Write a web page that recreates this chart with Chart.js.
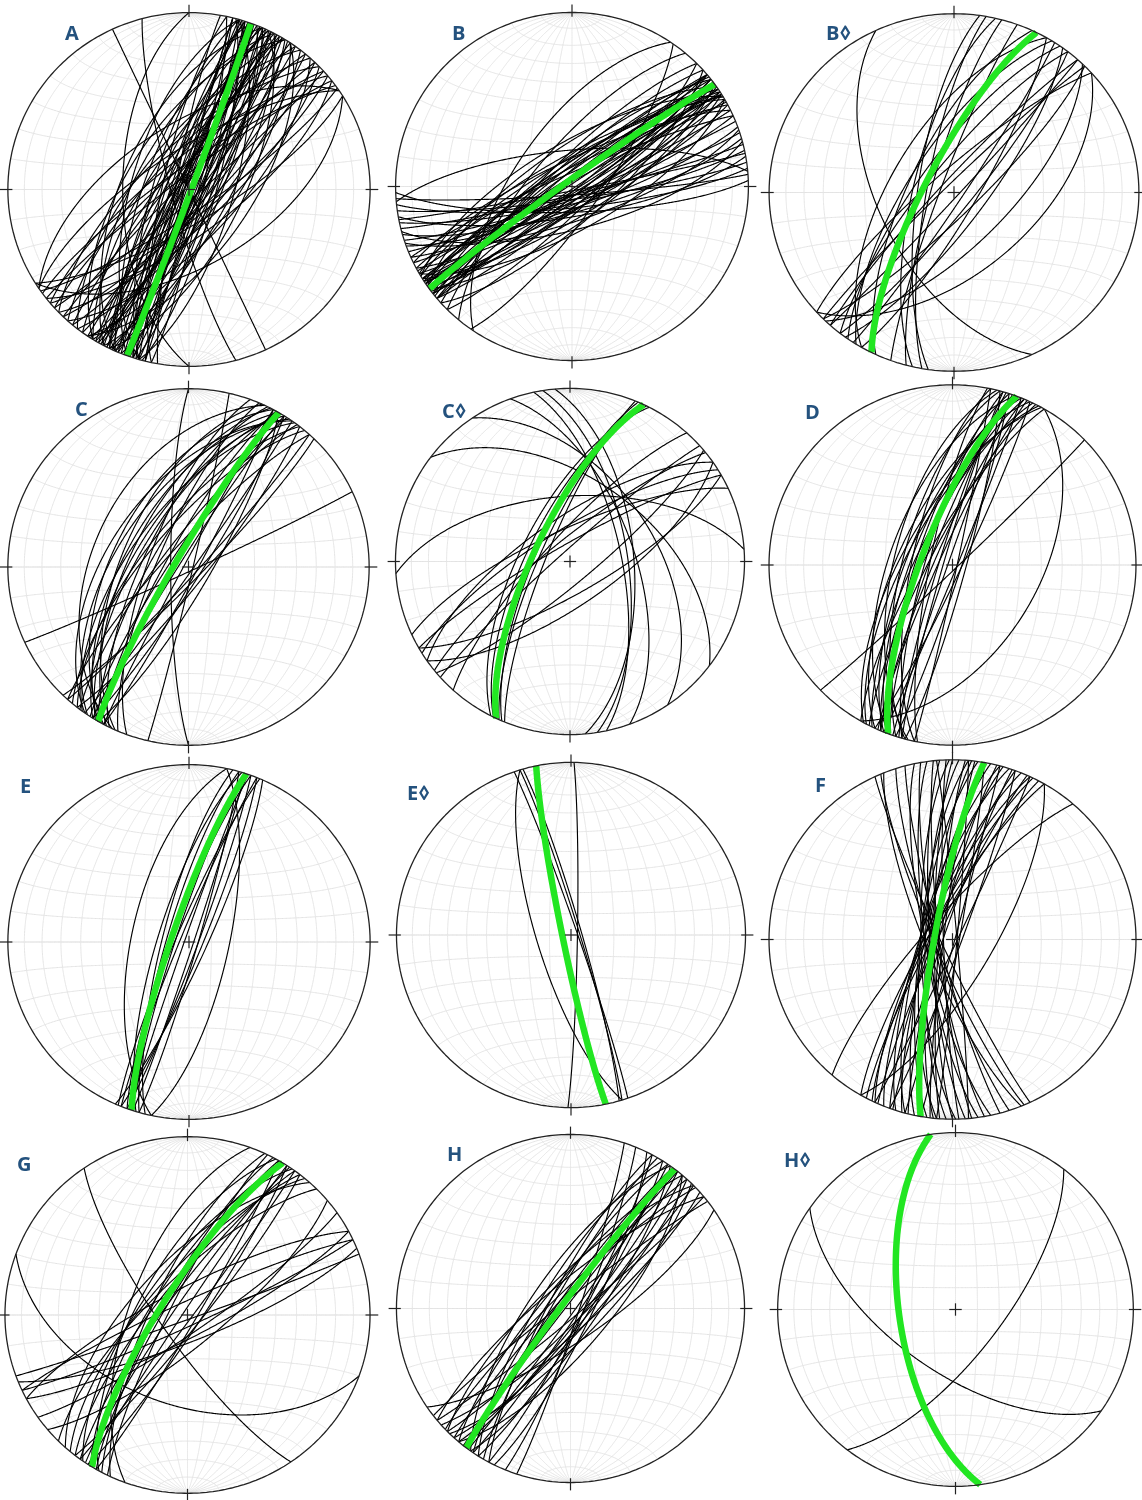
<!DOCTYPE html>
<html>
<head>
<meta charset="utf-8">
<script src="https://cdn.jsdelivr.net/npm/chart.js@4.4.1/dist/chart.umd.min.js"></script>
<style>
  body { margin: 0; background: #fff; width: 1142px; height: 1500px; position: relative; overflow: hidden; }
  .net { position: absolute; }
  .lbl { position: absolute; font: bold 20px "Open Sans", "DejaVu Sans", sans-serif; color: #24527e; line-height: 1; }
</style>
</head>
<body>
<script>
/* =========================================================
   Stereonets (equal-area, lower hemisphere) — great circles per site
   black = individual planes, green = mean plane
   ========================================================= */

// Panel labels
const panelLabels = ['A', 'B', 'B◊', 'C', 'C◊', 'D', 'E', 'E◊', 'F', 'G', 'H', 'H◊'];

// Mean planes (green), strike (right-hand rule) / dip in degrees
const meanStrike = [20, 234, 206.5, 210, 205, 200.5, 198.5, 168.5, 190, 211.5, 216.8, 172];
const meanDip = [89, 87, 77, 84, 73, 76, 82, 86, 82, 78, 86, 64];

// Individual planes, strike / dip
const strikeA = [12, 15, 18, 20, 22, 24, 26, 28, 30, 32, 34, 36, 38, 40, 42, 44, 46, 48, 50, 16, 26, 34, 52, 55, 58,
    190, 192, 194, 196, 198, 200, 202, 204, 206, 208, 210, 212, 214, 216, 218, 220, 222, 224, 226, 228, 230, 232, 196, 204, 212, 200, 208, 236, 234,
    155, 165, 180, 236, 58,
    14, 16, 18, 19, 21, 23, 25, 27, 29, 31, 194, 196, 197, 199, 201, 203, 205, 207, 209, 211, 17, 24, 198, 206, 33];
const dipA = [84, 78, 88, 82, 76, 86, 80, 72, 84, 78, 70, 86, 76, 82, 68, 80, 74, 86, 78, 70, 66, 62, 70, 80, 75,
    84, 78, 88, 74, 82, 70, 86, 76, 80, 66, 84, 72, 88, 78, 68, 82, 74, 86, 70, 80, 76, 84, 64, 60, 62, 88, 85, 72, 80,
    90, 82, 60, 60, 55,
    88, 86, 84, 89, 87, 85, 83, 88, 86, 84, 88, 86, 84, 89, 87, 85, 83, 88, 86, 84, 80, 78, 80, 78, 82];

const strikeB = [52, 55, 57, 58, 60, 62, 64, 50, 54, 60,
    230, 232, 234, 236, 238, 240, 242, 244, 246, 235, 239, 228, 241, 237,
    66, 68, 70, 72, 74, 76, 78, 80, 82, 84, 86, 88, 71, 79, 75,
    214, 265, 225, 45, 48, 220, 35,
    50, 52, 54, 56, 58, 230, 232, 234, 236, 238, 53, 57, 231, 235, 239];
const dipB = [86, 80, 88, 76, 84, 80, 86, 82, 74, 70,
    84, 78, 88, 80, 86, 76, 82, 78, 84, 72, 70, 80, 88, 82,
    82, 86, 80, 84, 78, 86, 82, 76, 84, 80, 86, 78, 74, 88, 70,
    63, 73, 78, 80, 74, 72, 77,
    88, 86, 84, 89, 87, 88, 86, 84, 89, 87, 82, 80, 82, 80, 78];

const strikeBd = [155, 48, 33, 42, 38, 45, 36, 44, 218, 222, 215, 225, 212, 228, 190, 193, 195, 188, 200, 205, 30, 210];
const dipBd = [56, 54, 86, 88, 82, 80, 76, 66, 78, 84, 74, 86, 70, 80, 78, 72, 80, 74, 84, 70, 80, 62];

const strikeC = [205, 208, 210, 212, 206, 214, 210, 216, 203, 218, 209, 213, 207, 215, 211, 204, 220, 217, 212, 208, 222, 200,
    28, 32, 35, 38, 42, 30, 65, 44, 180, 13];
const dipC = [46, 56, 62, 66, 70, 58, 74, 64, 76, 70, 80, 82, 64, 54, 68, 60, 72, 78, 86, 88, 80, 72,
    86, 84, 88, 82, 86, 80, 88, 84, 82, 88];

const strikeCd = [204, 206, 202, 207, 203, 307, 326, 266, 238, 60, 240, 231, 222, 235, 228, 245, 50, 55, 351, 348, 355, 340];
const dipCd = [76, 70, 79, 67, 74, 51, 50, 59, 75, 75, 82, 80, 78, 70, 85, 75, 80, 70, 63, 66, 60, 60];

const strikeD = [200, 198, 202, 204, 196, 205, 199, 203, 195, 207, 201, 197, 206, 194, 208, 200, 210, 192, 196, 203, 209, 191,
    18, 22, 15, 25, 12, 46, 30];
const dipD = [80, 74, 70, 84, 78, 66, 88, 76, 68, 80, 72, 84, 74, 64, 70, 62, 78, 72, 86, 82, 68, 80,
    86, 88, 84, 86, 88, 88, 51];

const strikeE = [198, 196, 200, 202, 194, 199, 203, 197, 20, 22, 18, 24, 16, 192, 12];
const dipE = [84, 80, 82, 86, 78, 88, 84, 76, 86, 84, 88, 82, 86, 64, 72];

const strikeEd = [1, 343, 341, 344, 163];
const dipEd = [87, 86, 87, 85, 74];

const strikeF = [170, 172, 174, 176, 178, 180, 182, 184, 186, 188, 190, 192, 194, 196, 198, 200, 202, 204, 206, 208,
    165, 168, 185, 195, 199, 187, 179, 205, 210, 162,
    5, 10, 15, 20, 355, 25,
    157, 158, 155, 221, 30];
const dipF = [82, 78, 84, 80, 86, 82, 78, 84, 80, 76, 82, 78, 84, 80, 76, 82, 78, 84, 80, 82,
    84, 78, 76, 76, 86, 86, 76, 78, 80, 82,
    88, 87, 89, 86, 88, 88,
    82, 78, 85, 79, 72];

const strikeG = [210, 212, 214, 208, 215, 206, 218, 213, 209, 216, 220, 205, 222, 225,
    30, 33, 36, 38,
    145.5, 110, 62, 65, 68, 245, 242, 70, 55, 50, 200];
const dipG = [80, 74, 84, 78, 70, 82, 76, 88, 68, 80, 72, 74, 66, 74,
    86, 84, 88, 84,
    78, 48, 80, 85, 78, 84, 78, 88, 82, 76, 64];

const strikeH = [36, 38, 40, 34, 42, 45, 32, 216, 214, 218, 220, 212, 222, 225, 210, 28, 48, 50, 230, 208, 44, 215, 55.5, 18, 22, 26, 226, 232, 40, 35];
const dipH = [88, 84, 82, 86, 80, 84, 82, 84, 80, 88, 78, 76, 84, 76, 82, 84, 80, 86, 78, 80, 76, 72, 75, 86, 84, 80, 82, 86, 72, 78];

const strikeHd = [125, 37.5];
const dipHd = [61, 69];

// Net grid: 10 degree meridians and small circles
const gridDips = [10, 20, 30, 40, 50, 60, 70, 80, 90];
const gridCones = [10, 20, 30, 40, 50, 60, 70, 80, 90, 100, 110, 120, 130, 140, 150, 160, 170];

const planeSets = [
    [strikeA, dipA], [strikeB, dipB], [strikeBd, dipBd],
    [strikeC, dipC], [strikeCd, dipCd], [strikeD, dipD],
    [strikeE, dipE], [strikeEd, dipEd], [strikeF, dipF],
    [strikeG, dipG], [strikeH, dipH], [strikeHd, dipHd],
];

// Page placement of each net (centre, radii in px, label corner)
const layout = [
    { cx: 189, cy: 189, rx: 181, ry: 177, lx: 65, ly: 23 },
    { cx: 571.5, cy: 186.5, rx: 176.5, ry: 174, lx: 452, ly: 23 },
    { cx: 954, cy: 192, rx: 185, ry: 179, lx: 826, ly: 23 },
    { cx: 188.5, cy: 566.5, rx: 180.5, ry: 178.5, lx: 75, ly: 399 },
    { cx: 569.5, cy: 561, rx: 174.5, ry: 173, lx: 442, ly: 401 },
    { cx: 952.5, cy: 565, rx: 183.5, ry: 180, lx: 805, ly: 402 },
    { cx: 189, cy: 941.5, rx: 181, ry: 177.5, lx: 20, ly: 776 },
    { cx: 570.5, cy: 934.5, rx: 174.5, ry: 172.5, lx: 407, ly: 783 },
    { cx: 952, cy: 939.5, rx: 183.5, ry: 179.5, lx: 815, ly: 775 },
    { cx: 187.5, cy: 1315, rx: 182.5, ry: 178.5, lx: 17, ly: 1154 },
    { cx: 570, cy: 1308, rx: 174, ry: 174, lx: 447, ly: 1144 },
    { cx: 955, cy: 1309, rx: 178, ry: 177, lx: 784, ly: 1150 },
];

const EXT = 1.06;
const D2R = Math.PI / 180;

// lower hemisphere equal-area projection of a unit vector (east, north, down)
function project(e, n, d) {
    const plunge = Math.asin(Math.max(-1, Math.min(1, d)));
    const trend = Math.atan2(e, n);
    const r = Math.SQRT2 * Math.sin((Math.PI / 2 - plunge) / 2);
    return { x: r * Math.sin(trend), y: r * Math.cos(trend) };
}

function greatCircle(strike, dip) {
    const s = strike * D2R, dd = dip * D2R;
    const sv = [Math.sin(s), Math.cos(s), 0];
    const dv = [Math.cos(dd) * Math.cos(s), -Math.cos(dd) * Math.sin(s), Math.sin(dd)];
    const pts = [];
    for (let a = 0; a <= 180; a++) {
        const ca = Math.cos(a * D2R), sa = Math.sin(a * D2R);
        pts.push(project(ca * sv[0] + sa * dv[0], ca * sv[1] + sa * dv[1], sa * dv[2]));
    }
    return pts;
}

function smallCircle(beta) {
    const b = beta * D2R, pts = [];
    for (let p = 0; p <= 180; p += 2) {
        const f = p * D2R;
        pts.push(project(Math.sin(b) * Math.cos(f), Math.cos(b), Math.sin(b) * Math.sin(f)));
    }
    return pts;
}

function primitive() {
    const pts = [];
    for (let t = 0; t <= 360; t += 2) pts.push({ x: Math.sin(t * D2R), y: Math.cos(t * D2R) });
    return pts;
}

// tiny tension keeps Chart.js off its x-sorted fast path (curves run vertically here)
function line(data, color, width) {
    return { data, showLine: true, borderColor: color, borderWidth: width, pointRadius: 0, fill: false,
        tension: 0.0001, borderJoinStyle: 'round' };
}

function buildNet(i) {
    const L = layout[i];
    const w = Math.round(2 * L.rx * EXT), h = Math.round(2 * L.ry * EXT);
    const box = document.createElement('div');
    box.className = 'net';
    box.style.left = (L.cx - w / 2) + 'px';
    box.style.top = (L.cy - h / 2) + 'px';
    const cv = document.createElement('canvas');
    cv.width = w; cv.height = h;
    cv.style.width = w + 'px'; cv.style.height = h + 'px';
    box.appendChild(cv);
    document.body.appendChild(box);

    const lbl = document.createElement('div');
    lbl.className = 'lbl';
    lbl.style.left = L.lx + 'px';
    lbl.style.top = L.ly + 'px';
    lbl.textContent = panelLabels[i];
    document.body.appendChild(lbl);

    const ds = [];
    const grid = '#e3e3e3';
    gridDips.forEach(d => {
        ds.push(line(greatCircle(0, d), grid, 1));
        if (d < 90) ds.push(line(greatCircle(180, d), grid, 1));
    });
    gridCones.forEach(b => ds.push(line(smallCircle(b), grid, 1)));
    ds.push(line(greatCircle(90, 90), grid, 1));

    const [st, dp] = planeSets[i];
    st.forEach((s, k) => ds.push(line(greatCircle(s, dp[k]), '#000', 1.15)));
    ds.push(line(greatCircle(meanStrike[i], meanDip[i]), '#22e622', 6.5));

    ds.push(line(primitive(), '#222', 1.3));
    // N/E/S/W ticks and centre cross
    const tIn = 0.975, tOut = 1.045, c = 0.035;
    ds.push(line([{ x: 0, y: tIn }, { x: 0, y: tOut }], '#222', 1.2));
    ds.push(line([{ x: 0, y: -tIn }, { x: 0, y: -tOut }], '#222', 1.2));
    ds.push(line([{ x: tIn, y: 0 }, { x: tOut, y: 0 }], '#222', 1.2));
    ds.push(line([{ x: -tIn, y: 0 }, { x: -tOut, y: 0 }], '#222', 1.2));
    ds.push(line([{ x: -c, y: 0 }, { x: c, y: 0 }], '#222', 1.2));
    ds.push(line([{ x: 0, y: -c }, { x: 0, y: c }], '#222', 1.2));

    // Chart.js paints dataset 0 last, so reverse to keep the grid underneath
    ds.reverse();

    new Chart(cv, {
        type: 'scatter',
        data: { datasets: ds },
        options: {
            responsive: false,
            animation: false,
            events: [],
            layout: { padding: 0 },
            plugins: { legend: { display: false }, tooltip: { enabled: false } },
            scales: {
                x: { type: 'linear', min: -EXT, max: EXT, display: false },
                y: { type: 'linear', min: -EXT, max: EXT, display: false },
            },
        },
    });
}

for (let i = 0; i < layout.length; i++) buildNet(i);
</script>
</body>
</html>
